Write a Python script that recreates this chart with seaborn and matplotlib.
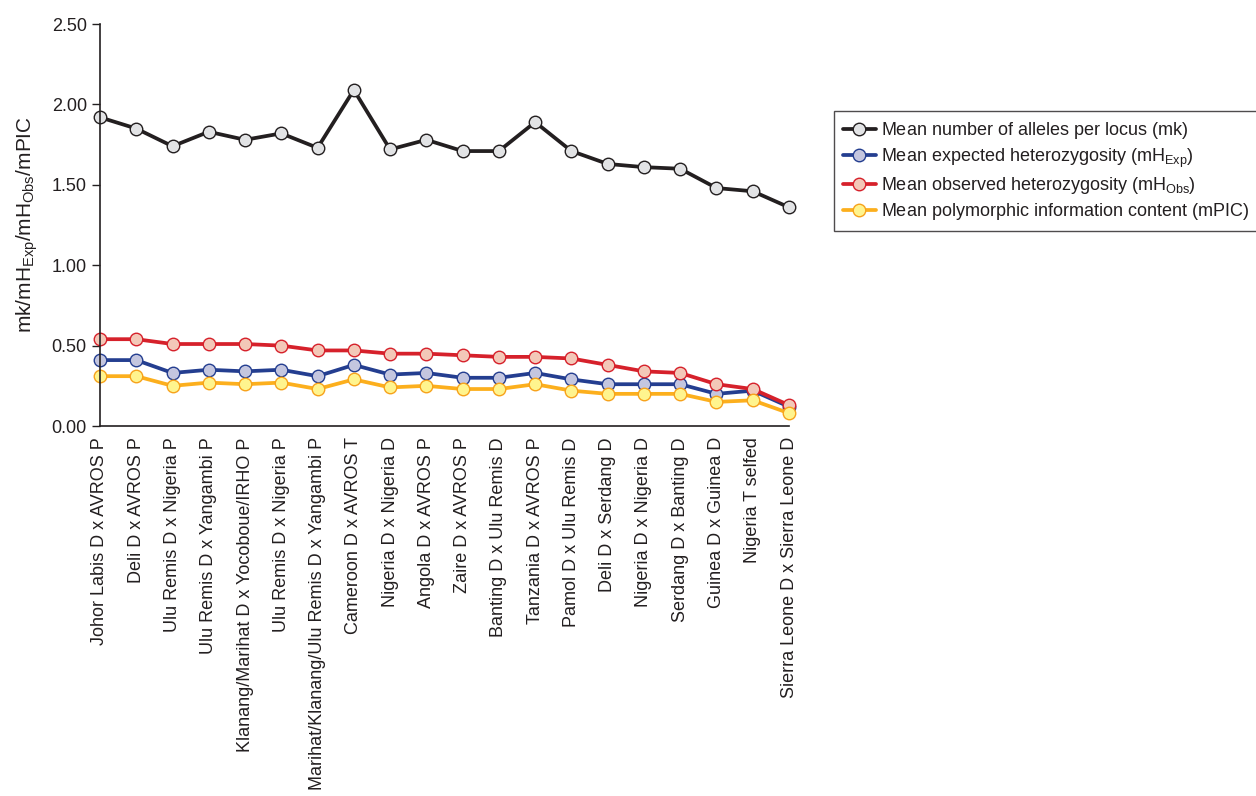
import matplotlib
matplotlib.use("Agg")
import matplotlib.pyplot as plt
import seaborn as sns
from pandas import DataFrame

# Crosses (x-axis categories)
crosses = [
    "Johor Labis D x AVROS P",
    "Deli D x AVROS P",
    "Ulu Remis D x Nigeria P",
    "Ulu Remis D x Yangambi P",
    "Klanang/Marihat D x Yocoboue/IRHO P",
    "Ulu Remis D x Nigeria P",
    "Marihat/Klanang/Ulu Remis D x Yangambi P",
    "Cameroon D x AVROS T",
    "Nigeria D x Nigeria D",
    "Angola D x AVROS P",
    "Zaire D x AVROS P",
    "Banting D x Ulu Remis D",
    "Tanzania D x AVROS P",
    "Pamol D x Ulu Remis D",
    "Deli D x Serdang D",
    "Nigeria D x Nigeria D",
    "Serdang D x Banting D",
    "Guinea D x Guinea D",
    "Nigeria T selfed",
    "Sierra Leone D x Sierra Leone D",
]

# Series values
mk = [1.92, 1.85, 1.74, 1.83, 1.78, 1.82, 1.73, 2.09, 1.72, 1.78,
      1.71, 1.71, 1.89, 1.71, 1.63, 1.61, 1.60, 1.48, 1.46, 1.36]
mh_exp = [0.41, 0.41, 0.33, 0.35, 0.34, 0.35, 0.31, 0.38, 0.32, 0.33,
          0.30, 0.30, 0.33, 0.29, 0.26, 0.26, 0.26, 0.20, 0.22, 0.12]
mh_obs = [0.54, 0.54, 0.51, 0.51, 0.51, 0.50, 0.47, 0.47, 0.45, 0.45,
          0.44, 0.43, 0.43, 0.42, 0.38, 0.34, 0.33, 0.26, 0.23, 0.13]
mpic = [0.31, 0.31, 0.25, 0.27, 0.26, 0.27, 0.23, 0.29, 0.24, 0.25,
        0.23, 0.23, 0.26, 0.22, 0.20, 0.20, 0.20, 0.15, 0.16, 0.08]

# the empty subscript on the plain labels keeps the legend rows evenly spaced
series_labels = [
    r"Mean number of alleles per locus (mk)$_{\ }$",
    r"Mean expected heterozygosity (mH$_{\mathrm{Exp}}$)",
    r"Mean observed heterozygosity (mH$_{\mathrm{Obs}}$)",
    r"Mean polymorphic information content (mPIC)$_{\ }$",
]

sns.set_style("ticks")
plt.rcParams["font.family"] = ["Liberation Sans", "DejaVu Sans"]
plt.rcParams["mathtext.fontset"] = "custom"
plt.rcParams["mathtext.rm"] = "Liberation Sans"
plt.rcParams["mathtext.it"] = "Liberation Sans:italic"

fig = plt.figure(figsize=(12.56, 7.96), dpi=100)
ax = fig.add_axes([0.0796, 0.4648, 0.5486, 0.505])

# (line colour, marker face, marker edge)
styles = [
    ("#231f20", "#e2e3e5", "#231f20"),
    ("#243e90", "#c4c6df", "#243e90"),
    ("#d6212b", "#f3c8b8", "#d6212b"),
    ("#fcaf1d", "#fff48e", "#f7a21b"),
]

pos = list(range(len(crosses)))
for label, values, (lc, mf, me) in zip(series_labels, [mk, mh_exp, mh_obs, mpic], styles):
    df = DataFrame({"pos": pos, "value": values})
    sns.lineplot(
        data=df, x="pos", y="value", ax=ax, color=lc, linewidth=2.7,
        marker="o", markersize=9, markerfacecolor=mf, markeredgecolor=me,
        markeredgewidth=1.0, label=label, sort=False, clip_on=False,
    )

ax.set_xlim(0, len(crosses) - 1)
ax.set_ylim(0, 2.5)
ax.set_yticks([0, 0.5, 1.0, 1.5, 2.0, 2.5])
ax.set_yticklabels([f"{v:.2f}" for v in [0, 0.5, 1.0, 1.5, 2.0, 2.5]], fontsize=13, color="#231f20")
ax.set_xticks(pos)
ax.set_xticklabels(crosses, rotation=90, fontsize=13, color="#231f20")
ax.tick_params(axis="x", length=0, pad=8)
ax.tick_params(axis="y", length=6, width=1, direction="out", color="#231f20")
ax.set_xlabel("")
ax.set_ylabel(r"mk/mH$_{\mathrm{Exp}}$/mH$_{\mathrm{Obs}}$/mPIC", fontsize=15, color="#231f20", labelpad=8)
sns.despine(ax=ax)
for s in ["left", "bottom"]:
    ax.spines[s].set_color("#231f20")
    ax.spines[s].set_linewidth(1.2)

handles, labels = ax.get_legend_handles_labels()
ax.get_legend().remove()
leg = fig.legend(
    handles, labels, loc="upper left", bbox_to_anchor=(0.664, 0.8606),
    borderaxespad=0, fontsize=13, frameon=True, fancybox=False, handlelength=1.8,
    handletextpad=0.3, labelspacing=0.3, borderpad=0.5,
)
leg.get_frame().set_edgecolor("#231f20")
leg.get_frame().set_linewidth(1.0)
for t in leg.get_texts():
    t.set_color("#231f20")

fig.savefig("out.png", dpi=100)
